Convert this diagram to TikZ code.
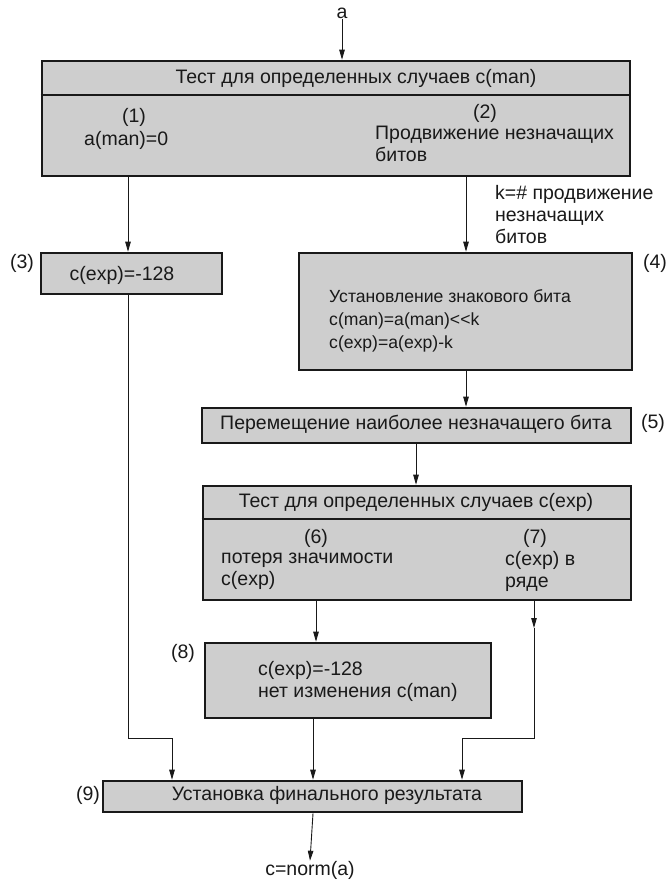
\documentclass[tikz,border=0pt]{standalone}
\usepackage{fontspec}
\setmainfont{Liberation Sans}
\usetikzlibrary{arrows.meta,calc}
\definecolor{boxgray}{RGB}{206,206,206}
\definecolor{ink}{RGB}{25,25,25}
\tikzset{
  blk/.style={draw=ink, line width=2.6pt, fill=boxgray, inner sep=0pt, rectangle},
  txt/.style={text=ink, inner sep=0pt, font=\fontsize{19.5}{22}\selectfont},
  ltxt/.style={txt, align=left, anchor=west},
  wire/.style={draw=ink, line width=0.9pt},
  arr/.style={wire, -{Triangle[length=10pt,width=5.5pt]}},
}
\begin{document}
\begin{tikzpicture}[x=1pt,y=-1pt]
\useasboundingbox (0,0) rectangle (671,880);

% column positions of the connectors
\coordinate (cA) at (342,0);
\coordinate (cL) at (128,0);
\coordinate (cR) at (466,0);
\coordinate (c5) at (416,0);
\coordinate (c6) at (316,0);
\coordinate (c8) at (313,0);
\coordinate (c7) at (534,0);
\coordinate (c9a) at (172,0);
\coordinate (c9c) at (462,0);

% boxes
\node[blk, minimum width=588pt, minimum height=115pt] (b1) at (336,118.5) {};
\draw[draw=ink, line width=1.8pt] (b1.west |- 0,95) coordinate (d1l) -- (b1.east |- 0,95) coordinate (d1r);
\node[blk, minimum width=181pt, minimum height=41pt] (b3) at (131.5,273.5) {};
\node[blk, minimum width=333pt, minimum height=117pt] (b4) at (465.5,311.5) {};
\node[blk, minimum width=429pt, minimum height=35pt] (b5) at (416.5,425.5) {};
\node[blk, minimum width=428pt, minimum height=114pt] (b6) at (417,543) {};
\draw[draw=ink, line width=1.8pt] (b6.west |- 0,519) coordinate (d6l) -- (b6.east |- 0,519) coordinate (d6r);
\node[blk, minimum width=286pt, minimum height=75pt] (b8) at (348,680.5) {};
\node[blk, minimum width=419pt, minimum height=31pt] (b9) at (312.5,796.5) {};

% texts
\node[txt] (ina) at (342,13) {a};
\node[txt] (h1) at (356,78) {Тест для определенных случаев c(man)};
\node[txt] (n1) at (134,117) {(1)};
\node[ltxt] (t1) at (84,140) {a(man)=0};
\node[txt] (n2) at (485,113) {(2)};
\node[ltxt] (t2) at (375,144) {Продвижение незначащих\\битов};
\node[ltxt] (tk) at (495,215) {k=\# продвижение\\незначащих\\битов};
\node[txt] (n3) at (22,263) {(3)};
\node[txt] (t3) at (122,275) {c(exp)=-128};
\node[txt] (n4) at (655,263) {(4)};
\node[ltxt, font=\fontsize{17.6}{23}\selectfont] (t4) at (329,321) {Установление знакового бита\\c(man)=a(man)<{}<k\\c(exp)=a(exp)-k};
\node[txt] (t5) at (416,424) {Перемещение наиболее незначащего бита};
\node[txt] (n5) at (653,423) {(5)};
\node[txt] (h6) at (416,502) {Тест для определенных случаев c(exp)};
\node[txt] (n6) at (316,538) {(6)};
\node[ltxt] (t6) at (221,571.5) {потеря значимости\\c(exp)};
\node[txt] (n7) at (535,538) {(7)};
\node[ltxt] (t7) at (505,571.5) {c(exp) в\\ряде};
\node[txt] (n8) at (183,653) {(8)};
\node[ltxt] (t8) at (258,681) {c(exp)=-128\\нет изменения c(man)};
\node[txt] (n9) at (88,795) {(9)};
\node[txt] (t9) at (327,795) {Установка финального результата};
\node[txt] (out) at (310,870) {c=norm(a)};

% connectors
\draw[arr] (ina.south) -- (b1.north -| cA);
\draw[arr] (b1.south -| cL) -- (b3.north -| cL);
\draw[arr] (b1.south -| cR) -- (b4.north -| cR);
\draw[arr] (b4.south -| cR) -- (b5.north -| cR);
\draw[arr] (b5.south -| c5) -- (b6.north -| c5);
\draw[arr] (b6.south -| c6) -- (b8.north -| c6);
\draw[arr] (b8.south -| c8) -- (b9.north -| c8);
\coordinate (jL) at (128,738);
\coordinate (jLa) at (172,738);
\draw[wire] (b3.south -| cL) -- (jL) -- (jLa);
\draw[arr] (jLa) -- (b9.north -| c9a);
\coordinate (m7) at (534,628);
\coordinate (jR) at (534,738);
\coordinate (jRa) at (462,738);
\draw[arr] (b6.south -| c7) -- (m7);
\draw[wire] (m7) -- (jR) -- (jRa);
\draw[arr] (jRa) -- (b9.north -| c9c);
\draw[arr] (b9.south -| c8) -- (out.north);
\end{tikzpicture}
\end{document}
